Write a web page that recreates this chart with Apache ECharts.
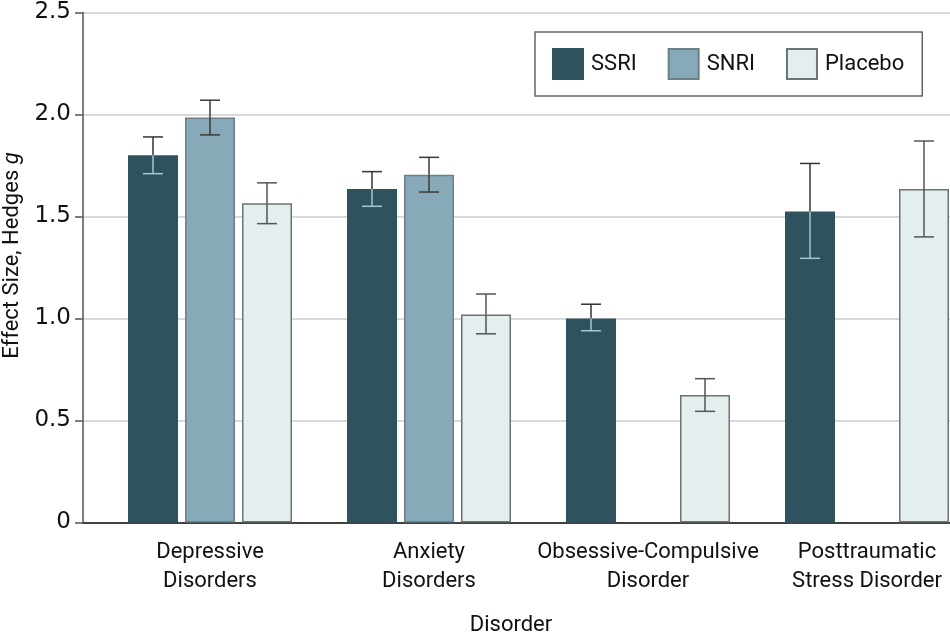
<!DOCTYPE html>
<html>
<head>
<meta charset="utf-8">
<script src="https://cdn.jsdelivr.net/npm/echarts@6/dist/echarts.min.js"></script>
<style>html,body{margin:0;padding:0;background:#fff;overflow:hidden}#c{width:950px;height:637px}</style>
</head>
<body>
<div id="c"></div>
<script>
const categories = ['Depressive\nDisorders', 'Anxiety\nDisorders', 'Obsessive-Compulsive\nDisorder', 'Posttraumatic\nStress Disorder'];
const seriesNames = ['SSRI', 'SNRI', 'Placebo'];
const ssriValues = [1.80, 1.635, 1.00, 1.525];
const ssriLow = [1.71, 1.55, 0.94, 1.295];
const ssriHigh = [1.89, 1.72, 1.07, 1.76];
const snriValues = [1.985, 1.705, null, null];
const snriLow = [1.90, 1.62, null, null];
const snriHigh = [2.07, 1.79, null, null];
const placeboValues = [1.565, 1.02, 0.625, 1.635];
const placeboLow = [1.465, 0.925, 0.545, 1.40];
const placeboHigh = [1.665, 1.12, 0.705, 1.87];
const yTicks = [0, 0.5, 1.0, 1.5, 2.0, 2.5];

const FONT = 'Roboto';
const NUMFONT = 'DejaVu Sans';
const FS = 22;
const colors = ['#2f535e', '#88a9b8', '#e5eeef'];
const borders = ['#2f535e', '#6d7f87', '#6a7473'];
const lowerColors = ['#a7c6ce', '#3a3a3a', '#555555'];
const upperColors = ['#333333', '#3a3a3a', '#555555'];
const BAR_W = 50, GAP = 7;

const allValues = [ssriValues, snriValues, placeboValues];
const allLow = [ssriLow, snriLow, placeboLow];
const allHigh = [ssriHigh, snriHigh, placeboHigh];

function errSeries(si) {
  const data = [];
  for (let i = 0; i < categories.length; i++) {
    if (allValues[si][i] == null) continue;
    data.push([i, allLow[si][i], allHigh[si][i], allValues[si][i]]);
  }
  return {
    type: 'custom', xAxisIndex: 1, yAxisIndex: 1, z: 5, silent: true,
    data: data,
    renderItem: function (params, api) {
      const idx = api.value(0);
      const x = api.coord([idx, 0])[0] + (si - 1) * (BAR_W + GAP);
      const yl = api.coord([idx, api.value(1)])[1];
      const yh = api.coord([idx, api.value(2)])[1];
      const yv = api.coord([idx, api.value(3)])[1];
      const cw = 10;
      const up = { stroke: upperColors[si], lineWidth: 1.5 };
      const lo = { stroke: lowerColors[si], lineWidth: 1.5 };
      return { type: 'group', children: [
        { type: 'line', shape: { x1: x, y1: yh, x2: x, y2: yv }, style: up },
        { type: 'line', shape: { x1: x - cw, y1: yh, x2: x + cw, y2: yh }, style: up },
        { type: 'line', shape: { x1: x, y1: yv, x2: x, y2: yl }, style: lo },
        { type: 'line', shape: { x1: x - cw, y1: yl, x2: x + cw, y2: yl }, style: lo }
      ]};
    }
  };
}

const barSeries = seriesNames.map((n, si) => ({
  name: n, type: 'bar', xAxisIndex: 1, yAxisIndex: 1,
  data: allValues[si], barWidth: BAR_W, barGap: (GAP / BAR_W * 100) + '%',
  itemStyle: { color: colors[si], borderColor: borders[si], borderWidth: 1.5 },
  z: 3
}));

const chart = echarts.init(document.getElementById('c'));
chart.setOption({
  animation: false,
  textStyle: { fontFamily: FONT },
  legend: {
    data: seriesNames, left: 535, top: 32, orient: 'horizontal',
    padding: [16, 18, 16, 17], itemWidth: 30, itemHeight: 30, itemGap: 31,
    borderColor: '#666', borderWidth: 1.5, backgroundColor: '#fff',
    textStyle: { fontFamily: FONT, fontSize: FS, color: '#111', padding: [0, 0, 0, 3] },
    icon: 'rect'
  },
  grid: [
    { left: 83, right: 0, top: 12.5, bottom: 114.5, containLabel: false, outerBoundsMode: 'none' },
    { left: 100.5, width: 876, top: 12.5, bottom: 114.5, containLabel: false, outerBoundsMode: 'none' }
  ],
  xAxis: [
    { type: 'value', gridIndex: 0, min: 0, max: 1, show: true,
      axisLine: { show: true, lineStyle: { color: '#111', width: 1.5 } },
      axisTick: { show: false }, axisLabel: { show: false }, splitLine: { show: false },
      name: 'Disorder', nameLocation: 'middle', nameGap: 92,
      nameTextStyle: { fontFamily: FONT, fontSize: FS, color: '#111', padding: [0, 11, 0, 0] } },
    { type: 'category', gridIndex: 1, data: categories,
      axisLine: { show: false }, axisTick: { show: false },
      axisLabel: { fontFamily: FONT, fontSize: FS, color: '#111', margin: 16, lineHeight: 28.5, interval: 0, align: 'center', hideOverlap: false } }
  ],
  yAxis: [
    { type: 'value', gridIndex: 0, min: 0, max: 2.5, interval: 0.5,
      axisLine: { show: true, lineStyle: { color: '#555', width: 1.5 } },
      axisTick: { show: true, length: 8, lineStyle: { color: '#555', width: 1.5 } },
      splitLine: { show: true, lineStyle: { color: '#d9d9d9', width: 2 } },
      axisLabel: { fontFamily: NUMFONT, fontSize: 23, color: '#111', margin: 12,
        formatter: v => (v === 0 ? '0' : v.toFixed(1)) },
      name: 'Effect Size, Hedges {i|g}', nameLocation: 'middle', nameGap: 52, nameRotate: 90,
      nameTextStyle: { fontFamily: FONT, fontSize: FS, color: '#111', padding: [0, 0, 0, 24],
        rich: { i: { fontFamily: FONT, fontSize: FS, fontStyle: 'italic', color: '#111' } } } },
    { type: 'value', gridIndex: 1, min: 0, max: 2.5, interval: 0.5, show: false,
      splitLine: { show: false } }
  ],
  series: barSeries.concat([errSeries(0), errSeries(1), errSeries(2)])
});
</script>
</body>
</html>
